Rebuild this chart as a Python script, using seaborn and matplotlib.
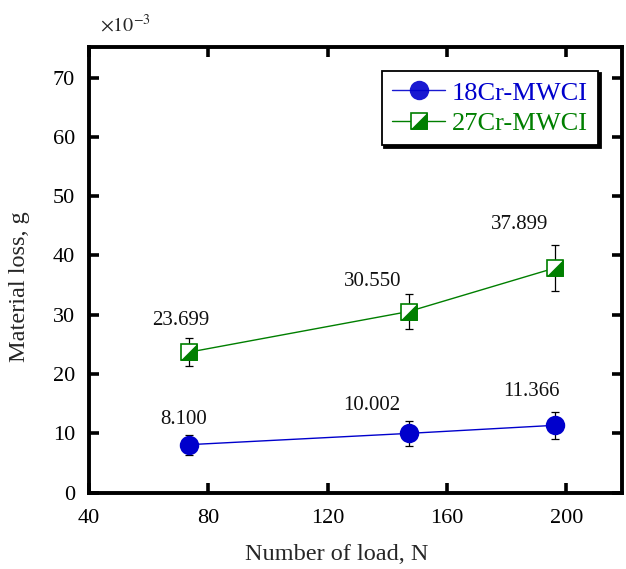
import numpy as np
import matplotlib
matplotlib.use("Agg")
import matplotlib.pyplot as plt
from matplotlib.lines import Line2D
from matplotlib.legend_handler import HandlerTuple
import seaborn as sns

# Applied load (N) and mean material loss (x10^-3 g) with standard deviations
loads = [73.575, 147.15, 196.2]
loss_18cr = [8.100, 10.002, 11.366]
err_18cr = [1.7, 2.05, 2.3]
loss_27cr = [23.699, 30.550, 37.899]
err_27cr = [2.4, 3.0, 3.85]
series_names = ["18Cr-MWCI", "27Cr-MWCI"]
x_ticks = [40, 80, 120, 160, 200]
y_ticks = [0, 10, 20, 30, 40, 50, 60, 70]

BLUE = "#0000CC"
GREEN = "#007F00"

sns.set_style("ticks")
plt.rcParams["font.family"] = ["Liberation Serif", "DejaVu Serif"]
plt.rcParams["mathtext.fontset"] = "stix"

fig = plt.figure(figsize=(6.26, 5.69), dpi=100)
ax = fig.add_axes([89 / 626, 1 - 492.7 / 569, (621.7 - 89) / 626, (492.7 - 46.7) / 569])

# error bars sit behind the markers
ax.errorbar(loads, loss_18cr, yerr=err_18cr, fmt="none", ecolor="black",
            elinewidth=0.9, capsize=2.6, capthick=0.9, zorder=2)
ax.errorbar(loads, loss_27cr, yerr=err_27cr, fmt="none", ecolor="black",
            elinewidth=0.9, capsize=2.6, capthick=0.9, zorder=2)

sns.lineplot(x=loads, y=loss_18cr, color=BLUE, linewidth=1.0, marker="o",
             markersize=14, markeredgewidth=0, ax=ax, zorder=3, legend=False)
sns.lineplot(x=loads, y=loss_27cr, color=GREEN, linewidth=1.0, marker="s",
             markersize=11.5, markerfacecolor="white", markeredgecolor=GREEN,
             markeredgewidth=1.2, ax=ax, zorder=3, legend=False)

# lower-right half of the square filled
half_tri = [(-1, -1), (1, -1), (1, 1), (-1, -1)]
ax.plot(loads, loss_27cr, linestyle="none", marker=half_tri, markersize=11.5,
        markerfacecolor=GREEN, markeredgecolor=GREEN, markeredgewidth=0.6, zorder=4)

# value labels
offsets_18 = [(-6, 25), (-37, 28), (-24, 34)]
offsets_27 = [(-8, 32), (-36, 30), (-36, 43)]
for x, y, off in zip(loads, loss_18cr, offsets_18):
    ax.annotate(f"{y:.3f}", (x, y), xytext=off, textcoords="offset pixels",
                ha="center", va="center", fontsize=15, color="#111111")
for x, y, off in zip(loads, loss_27cr, offsets_27):
    ax.annotate(f"{y:.3f}", (x, y), xytext=off, textcoords="offset pixels",
                ha="center", va="center", fontsize=15, color="#111111")

ax.set_xlim(40, 218.5)
ax.set_ylim(0, 75.2)
ax.set_xticks(x_ticks)
ax.set_yticks(y_ticks)
ax.tick_params(direction="in", length=7, width=2.6, top=True, right=True,
               labelsize=16, colors="black")
ax.tick_params(axis="x", pad=12)
ax.tick_params(axis="y", pad=10)
for sp in ax.spines.values():
    sp.set_linewidth(2.8)
    sp.set_color("black")

ax.set_xlabel("Number of load, N", fontsize=17.5, va="center")
ax.set_ylabel("Material loss, g", fontsize=17.5, va="center")
ax.xaxis.set_label_coords((337 - 89) / (621.7 - 89), -(555 - 492.7) / 446)
ax.yaxis.set_label_coords(-(89 - 20) / (621.7 - 89), (492.7 - 286.5) / 446)

fig.text(100 / 626, 1 - 32 / 569, r"$\times10^{-3}$", fontsize=14.5,
         ha="left", va="baseline")

h18 = Line2D([], [], color=BLUE, lw=1.0, marker="o", markersize=14,
             markeredgewidth=0, alpha=0.9)
h27a = Line2D([], [], color=GREEN, lw=1.0, marker="s", markersize=11.5,
              markerfacecolor="white", markeredgecolor=GREEN, markeredgewidth=1.2)
h27b = Line2D([], [], linestyle="none", marker=half_tri, markersize=11.5,
              markerfacecolor=GREEN, markeredgecolor=GREEN, markeredgewidth=0.6)
leg = ax.legend([h18, (h27a, h27b)], series_names,
                handler_map={tuple: HandlerTuple(ndivide=1)},
                loc="upper left", bbox_to_anchor=(381.7 / 626, 1 - 70.7 / 569),
                bbox_transform=fig.transFigure, borderaxespad=0, fontsize=19,
                frameon=True, fancybox=False, edgecolor="black", framealpha=1,
                handlelength=2.0, handletextpad=0.25, borderpad=0.4,
                labelspacing=0.25,
                shadow={"facecolor": "black", "edgecolor": "black", "alpha": 1})
leg.get_frame().set_linewidth(1.3)
for txt, c in zip(leg.get_texts(), [BLUE, GREEN]):
    txt.set_color(c)

fig.savefig("out.png", dpi=100)
